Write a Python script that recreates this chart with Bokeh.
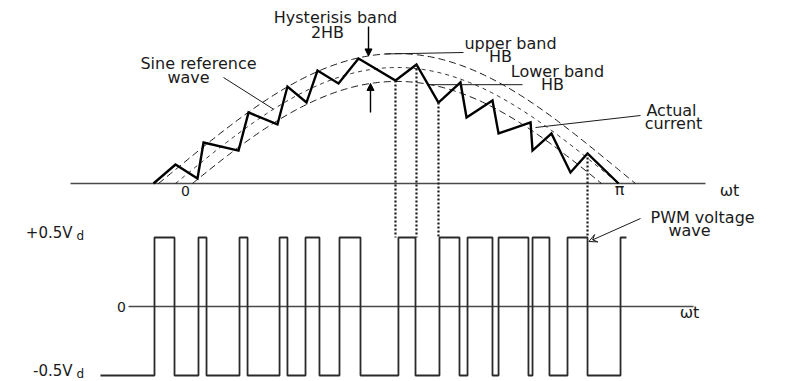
import numpy as np
from bokeh.plotting import figure
from bokeh.models import Range1d, Label, Arrow, NormalHead, VeeHead
from bokeh.embed import file_html
from bokeh.resources import INLINE

# ---------------- data ----------------
# reference sine (per unit) and hysteresis half band HB
sine_amplitude = 1.0
hysteresis_hb = 0.12

# actual current: switching vertices (omega*t in rad, current in per unit)
current_t = [-0.156, 0.000, 0.156, 0.199, 0.447, 0.518, 0.723, 0.794, 0.929,
             1.007, 1.156, 1.298, 1.560, 1.709, 1.865, 2.021, 2.064, 2.248,
             2.291, 2.518, 2.532, 2.666, 2.801, 2.922, 3.142]
current_i = [0.000, 0.164, 0.043, 0.353, 0.284, 0.612, 0.509, 0.836, 0.698,
             0.974, 0.862, 1.078, 0.888, 1.026, 0.698, 0.871, 0.569, 0.716,
             0.431, 0.526, 0.284, 0.431, 0.095, 0.259, 0.000]
# vertices projected down onto the PWM wave (dotted lines)
projected_vertices = [12, 13, 14, 23]

# PWM voltage wave: switching instants (rad) and level of each interval (x Vd)
pwm_edges = [-0.532, -0.149, -0.007, 0.163, 0.220, 0.454, 0.511, 0.738, 0.794,
             0.922, 1.021, 1.163, 1.312, 1.581, 1.702, 1.872, 2.014, 2.071,
             2.248, 2.291, 2.503, 2.532, 2.652, 2.780, 2.922, 3.156, 3.198]
pwm_levels = [-0.5, 0.5, -0.5, 0.5, -0.5, 0.5, -0.5, 0.5, -0.5, 0.5, -0.5,
              0.5, -0.5, 0.5, -0.5, 0.5, -0.5, 0.5, -0.5, 0.5, -0.5, 0.5,
              -0.5, 0.5, -0.5, 0.5]

# tick labels
current_ticks = [0.0, np.pi]
current_tick_labels = ["0", "\u03c0"]
volt_ticks = [0.5, 0.0, -0.5]
volt_tick_labels = ["+0.5V", "0", "-0.5V"]

# ---------------- layout helpers (reference pixel -> data) ----------------
PX_PER_RAD = 141.01
def tx(px):
    return (px - 175.0) / PX_PER_RAD
def cy(py):
    return (183.0 - py) / 116.0
def vy(py):
    return (306.0 - py) / 138.0

W, H = 798, 381
p = figure(width=W, height=H, output_backend="svg", toolbar_location=None,
           x_range=Range1d(tx(0), tx(W)), y_range=Range1d(cy(H), cy(0)),
           min_border=0, tools="")
p.extra_y_ranges = {"volt": Range1d(vy(H), vy(0))}
p.axis.visible = False
p.xgrid.visible = False
p.ygrid.visible = False
p.outline_line_color = None
p.background_fill_color = "white"
p.border_fill_color = "white"

INK = "#1a1a1a"
GREY = "#4a4a4a"
FONT = "DejaVu Sans"

def v_to_cur(v):
    cur_lo, cur_hi = p.y_range.start, p.y_range.end
    v_lo, v_hi = p.extra_y_ranges["volt"].start, p.extra_y_ranges["volt"].end
    return cur_lo + (v - v_lo) / (v_hi - v_lo) * (cur_hi - cur_lo)

# ---------------- upper panel ----------------
p.line([tx(70), tx(705)], [0, 0], line_color=GREY, line_width=1.3)

hb_t = np.arcsin(hysteresis_hb / sine_amplitude)
t_up = np.linspace(-hb_t, np.pi + hb_t, 200)
t_lo = np.linspace(hb_t, np.pi - hb_t, 200)
t_s = np.linspace(0, np.pi, 200)
p.line(t_up, sine_amplitude * np.sin(t_up) + hysteresis_hb,
       line_color=INK, line_width=1, line_dash="7 4")
p.line(t_lo, sine_amplitude * np.sin(t_lo) - hysteresis_hb,
       line_color=INK, line_width=1, line_dash="7 4")
p.line(t_s, sine_amplitude * np.sin(t_s),
       line_color=INK, line_width=0.9, line_dash="4 4")

p.line(current_t, current_i, line_color="black", line_width=2.4,
       line_join="miter")

# dotted projections
for k in projected_vertices:
    p.line([current_t[k], current_t[k]], [current_i[k], v_to_cur(0.5)],
           line_color=INK, line_width=2.2, line_dash="2 2")

# ---------------- lower panel ----------------
p.line([tx(128), tx(693)], [0, 0], y_range_name="volt",
       line_color=GREY, line_width=1.3)
xs, ys = [], []
for i, lv in enumerate(pwm_levels):
    xs += [pwm_edges[i], pwm_edges[i + 1]]
    ys += [lv, lv]
p.line(xs, ys, y_range_name="volt", line_color="#2a2a2a", line_width=1.8)

# ---------------- texts ----------------
def lab(text, x, y, size=16, align="center", rng="default", baseline="middle"):
    p.add_layout(Label(x=x, y=y, text=text, text_font=FONT,
                       text_font_size=f"{size}px", text_color=INK,
                       text_align=align, text_baseline=baseline,
                       y_range_name=rng))

lab("Hysterisis band", tx(335), cy(17))
lab("2HB", tx(327), cy(32))
lab("Sine reference", tx(198), cy(63))
lab("wave", tx(188), cy(77))
lab("upper band", tx(510), cy(43))
lab("HB", tx(500), cy(56))
lab("Lower band", tx(557), cy(71))
lab("HB", tx(552), cy(84))
lab("Actual", tx(671), cy(110))
lab("current", tx(673), cy(123))
lab(current_tick_labels[0], current_ticks[0] + tx(185), cy(190), size=14)
lab(current_tick_labels[1], current_ticks[1] + tx(619) - np.pi, cy(189), size=16)
lab("\u03c9t", tx(729), cy(190), size=16)

lab("PWM voltage", tx(650), vy(217), align="left", rng="volt")
lab("wave", tx(689), vy(230), rng="volt")
lab("\u03c9t", tx(689), vy(312), rng="volt")

for v, txt in zip(volt_ticks, volt_tick_labels):
    if txt == "0":
        lab(txt, tx(121), v, size=14, rng="volt")
    else:
        lab(txt, tx(72), v + 0.036, size=15, align="right", rng="volt")
        lab("d", tx(76), v + 0.014, size=12, align="left", rng="volt")

# ---------------- pointers ----------------
def band_up(t):
    return sine_amplitude * np.sin(t) + hysteresis_hb
def band_lo(t):
    return sine_amplitude * np.sin(t) - hysteresis_hb

ta = tx(368)
p.add_layout(Arrow(end=NormalHead(size=7, fill_color="black", line_color="black"),
                   x_start=ta, y_start=cy(26), x_end=ta, y_end=band_up(ta),
                   line_width=1.4, line_color="black"))
tb = tx(370)
p.add_layout(Arrow(end=NormalHead(size=7, fill_color="black", line_color="black"),
                   x_start=tb, y_start=cy(112), x_end=tb, y_end=band_lo(tb),
                   line_width=1.4, line_color="black"))

# sine reference pointer
ts = tx(273)
p.line([tx(223), ts], [cy(77), sine_amplitude * np.sin(ts)],
       line_color=INK, line_width=1)
# upper band pointer
tu = tx(385)
p.line([tx(463), tu], [cy(52), band_up(tu)], line_color=INK, line_width=1)
# lower band pointer
tl = tx(430)
p.line([tl, tx(522)], [band_lo(tl), band_lo(tl)], line_color=INK, line_width=1)
# actual current pointer
p.line([tx(535), tx(640)], [cy(127), cy(115)], line_color=INK, line_width=1)
# PWM pointer (to the pulse edge under the last projected vertex)
p.add_layout(Arrow(end=VeeHead(size=8, line_color=INK, line_width=1, fill_color=None),
                   x_start=tx(640), y_start=vy(218),
                   x_end=current_t[projected_vertices[-1]] + 0.01,
                   y_end=vy(241), y_range_name="volt", line_width=1, line_color=INK))

open("out.html", "w").write(file_html(p, INLINE))
